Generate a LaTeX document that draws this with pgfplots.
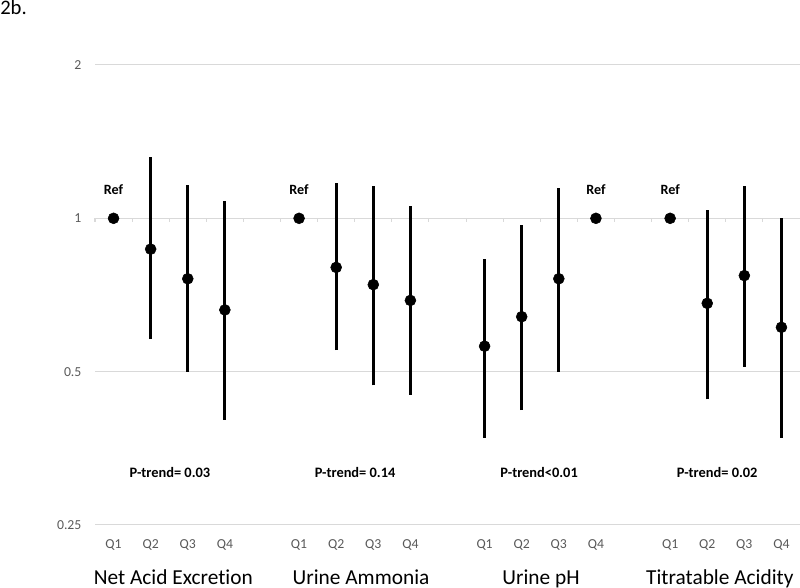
\documentclass[border=0pt]{standalone}
\usepackage{pgfplots}
\pgfplotsset{compat=1.18}
\usepackage{fontspec}
\setmainfont{Carlito}[Ligatures=CommonOff]
\definecolor{gridgray}{HTML}{D9D9D9}
\definecolor{labgray}{HTML}{595959}

\begin{document}
\begin{tikzpicture}
\path[use as bounding box] (0,0) rectangle (600pt,441pt);
\begin{axis}[
  at={(71.25pt,47.25pt)}, anchor=south west,
  scale only axis, width=528.75pt, height=345pt,
  xmin=-0.5, xmax=18.5,
  ymode=log, log basis y=2, ymin=0.25, ymax=2,
  ytick={0.25,0.5,1,2}, yticklabels={0.25,0.5,1,2},
  xtick={0,1,2,3,5,6,7,8,10,11,12,13,15,16,17,18},
  xticklabels={Q1,Q2,Q3,Q4,Q1,Q2,Q3,Q4,Q1,Q2,Q3,Q4,Q1,Q2,Q3,Q4},
  axis line style={draw=none},
  major tick length=0pt,
  ymajorgrids, grid style={gridgray, line width=0.75pt},
  tick label style={font=\fontsize{10.3}{12}\selectfont, text=labgray},
  xticklabel style={anchor=base, yshift=-17.8pt},
  yticklabel style={anchor=east, inner sep=0pt, xshift=-10pt},
  clip=false,
]
\pgfplotsinvokeforeach{-0.5,0.5,1.5,2.5,3.5,4.5,5.5,6.5,7.5,8.5,9.5,10.5,11.5,12.5,13.5,14.5,15.5,16.5,17.5,18.5}{
  \draw[gridgray, line width=0.75pt] (axis cs:#1,1) -- ([yshift=-3pt]axis cs:#1,1);
}
% confidence intervals
\addplot[black, line width=2.25pt, unbounded coords=jump, mark=none] coordinates {
(1,0.579)(1,1.321) (1,nan)
(2,0.5)(2,1.162) (2,nan)
(3,0.402)(3,1.081) (3,nan)
(6,0.551)(6,1.171) (6,nan)
(7,0.470)(7,1.159) (7,nan)
(8,0.450)(8,1.059) (8,nan)
(10,0.371)(10,0.831) (10,nan)
(11,0.420)(11,0.970) (11,nan)
(12,0.5)(12,1.148) (12,nan)
(16,0.441)(16,1.038) (16,nan)
(17,0.511)(17,1.159) (17,nan)
(18,0.371)(18,1.0)
};
% point estimates
\addplot[only marks, mark=*, mark size=4.1pt, black] coordinates {
(0,1)(1,0.870)(2,0.761)(3,0.661)
(5,1)(6,0.801)(7,0.741)(8,0.690)
(10,0.561)(11,0.641)(12,0.761)(13,1)
(15,1)(16,0.681)(17,0.772)(18,0.611)};
% Ref labels
\foreach \xx in {0,5,13,15}{
  \edef\temp{\noexpand\node[anchor=base, font=\noexpand\bfseries\noexpand\fontsize{10.6}{12}\noexpand\selectfont, inner sep=0pt] at (axis cs:\xx,1.116) {Ref};}
  \temp
}
% P-trend labels
\node[anchor=base, font=\bfseries\fontsize{10.8}{13}\selectfont, inner sep=0pt] at (axis cs:1.52,0.31) {P-trend= 0.03};
\node[anchor=base, font=\bfseries\fontsize{10.8}{13}\selectfont, inner sep=0pt] at (axis cs:6.51,0.31) {P-trend= 0.14};
\node[anchor=base, font=\bfseries\fontsize{10.8}{13}\selectfont, inner sep=0pt] at (axis cs:11.47,0.31) {P-trend<0.01};
\node[anchor=base, font=\bfseries\fontsize{10.8}{13}\selectfont, inner sep=0pt] at (axis cs:16.27,0.31) {P-trend= 0.02};
% group names
\node[anchor=base, font=\fontsize{16}{19}\selectfont, inner sep=0pt, yshift=-44.25pt] at (axis cs:1.61,0.25) {Net Acid Excretion};
\node[anchor=base, font=\fontsize{16}{19}\selectfont, inner sep=0pt, yshift=-44.25pt] at (axis cs:6.67,0.25) {Urine Ammonia};
\node[anchor=base, font=\fontsize{16}{19}\selectfont, inner sep=0pt, yshift=-44.25pt] at (axis cs:11.52,0.25) {Urine pH};
\node[anchor=base, font=\fontsize{16}{19}\selectfont, inner sep=0pt, yshift=-44.25pt] at (axis cs:16.34,0.25) {Titratable Acidity};
\end{axis}
\node[anchor=base west, inner sep=0pt, font=\fontsize{15.5}{18}\selectfont] at (0pt,429.75pt) {2b.};
\end{tikzpicture}
\end{document}
